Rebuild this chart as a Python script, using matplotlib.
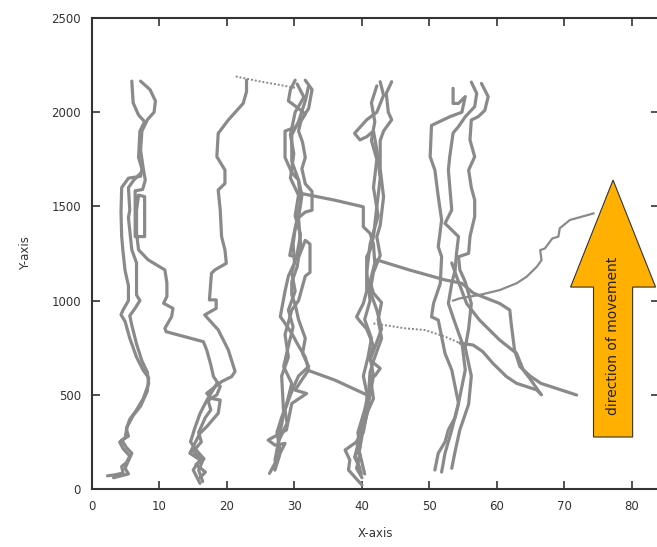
import matplotlib
matplotlib.use("Agg")
import matplotlib.pyplot as plt
from matplotlib.patches import FancyArrow

# tracks (x in axis units, y in axis units)
c1_a_x = [5.9, 6.1, 6.9, 7.8, 7.1, 7.0, 6.9, 7.4, 7.2, 5.4, 4.4, 4.3, 4.4, 4.6, 4.9, 5.4, 5.4, 4.6, 4.3,
          4.9, 5.6, 6.6, 7.6, 8.4, 8.2, 7.2, 6.1, 5.2, 4.9, 4.1, 4.6, 5.6, 5.1, 4.4, 4.6, 3.4, 2.3]
c1_a_y = [2165, 2050, 1985, 1950, 1900, 1830, 1760, 1700, 1660, 1650, 1600, 1470, 1340, 1260, 1160, 1080,
          1000, 950, 925, 890, 800, 700, 630, 590, 520, 440, 390, 330, 270, 250, 215, 175, 140, 120, 85, 75, 70]
c1_b_x = [7.6, 6.2, 5.4, 5.6, 5.4, 5.9, 6.6, 6.6, 7.1, 6.4, 5.6, 5.9, 6.6, 7.4, 8.2, 8.4, 7.6, 6.6,
          5.6, 5.1, 5.4, 4.4, 5.1, 5.9, 5.4, 4.9, 5.4, 3.2]
c1_b_y = [1690, 1640, 1600, 1480, 1440, 1270, 1200, 1030, 1000, 960, 920, 870, 770, 680, 620, 560, 480,
          420, 370, 320, 280, 260, 220, 190, 150, 110, 80, 60]
c1_c_x = [7.2, 8.6, 9.4, 9.2, 8.2, 7.4, 7.2, 7.6, 7.9, 7.5, 6.4, 6.4, 7.8, 7.8, 6.9, 6.6, 6.6, 6.9, 8.3,
          10.8, 11.1, 11.1, 10.6, 12.0, 11.8, 10.8, 11.0, 16.5, 17.0, 17.6, 18.0, 19.0, 18.5, 17.2, 17.6,
          16.8, 15.8, 16.2, 15.0, 16.4, 15.8, 16.4]
c1_c_y = [2165, 2120, 2060, 2000, 1960, 1900, 1800, 1700, 1640, 1590, 1583, 1340, 1340, 1552, 1560,
          1480, 1360, 1270, 1217, 1163, 1093, 1022, 986, 959, 915, 853, 835, 782, 738, 660, 597, 544, 500,
          470, 420, 380, 300, 250, 200, 150, 100, 40]

c2_a_x = [22.9, 22.9, 22.4, 20.2, 18.7, 18.5, 19.7, 19.7, 18.7, 19.0, 19.2, 19.7, 19.9, 18.2, 17.7, 17.4,
          18.4, 18.4, 16.7, 18.7, 20.2, 21.2, 20.7, 19.2, 17.0, 17.7, 19.0, 18.7, 17.0, 16.0, 15.0, 14.5,
          16.0, 15.0, 16.0]
c2_a_y = [2170, 2110, 2047, 1959, 1888, 1764, 1693, 1622, 1587, 1481, 1340, 1269, 1198, 1163, 1145, 1004,
          1004, 959, 924, 845, 738, 624, 597, 570, 508, 481, 472, 402, 331, 296, 226, 190, 155, 101, 30]
c2_b_x = [18.5, 17.0, 16.0, 15.2, 14.6, 15.6, 16.6, 15.4, 16.8, 16.0]
c2_b_y = [560, 470, 400, 320, 250, 200, 160, 130, 90, 60]

c3_a_x = [30.1, 29.4, 29.1, 30.6, 31.6, 30.9, 30.1, 28.6, 28.6, 29.6, 30.6, 31.1, 30.6, 30.1, 29.8, 30.0,
          29.1, 28.6, 27.9, 28.6, 29.6, 30.6, 31.6, 32.1, 31.1, 30.1, 31.8, 29.6, 29.1, 28.8, 26.1, 27.1,
          28.6, 27.1, 26.3]
c3_a_y = [2170, 2120, 2060, 2020, 1990, 1950, 1920, 1900, 1760, 1680, 1640, 1560, 1440, 1380, 1300, 1200,
          1130, 1050, 915, 880, 826, 760, 700, 632, 580, 525, 507, 454, 366, 313, 260, 233, 242, 136, 83]
c3_b_x = [31.6, 32.6, 32.1, 31.0, 30.6, 31.2, 31.6, 31.1, 31.6, 32.6, 32.6, 31.6, 30.6, 30.9, 30.4, 29.6,
          29.6, 30.1, 30.6, 31.6, 31.2, 32.1, 30.6, 30.1, 29.4, 28.6, 28.9, 27.6, 27.8, 27.1]
c3_b_y = [2170, 2120, 2020, 1960, 1900, 1840, 1760, 1700, 1620, 1580, 1480, 1470, 1440, 1300, 1180, 1100,
          1030, 980, 900, 800, 720, 650, 600, 560, 500, 420, 350, 250, 180, 100]
c3_c_x = [32.1, 31.6, 30.6, 29.6, 29.6, 30.6, 30.9, 29.9, 29.3, 30.6, 31.6, 32.3, 32.3, 31.6, 30.6, 29.6,
          28.6, 29.1, 28.1, 28.4, 27.1]
c3_c_y = [2140, 2060, 1950, 1880, 1740, 1640, 1520, 1350, 1240, 1230, 1320, 1300, 1150, 1130, 1000, 950,
          820, 700, 600, 400, 150]
c3_d_x = [30.4, 31.4, 30.1, 29.4, 29.9, 29.4, 30.6, 30.1, 30.9, 30.4, 29.6, 30.1, 29.1, 29.8, 29.1, 28.4,
          29.6, 28.9, 28.1, 27.4, 27.9, 26.9]
c3_d_y = [2150, 2080, 2000, 1880, 1780, 1650, 1560, 1450, 1350, 1250, 1150, 1050, 950, 860, 760, 650,
          560, 460, 380, 300, 200, 110]

c4_a_x = [42.7, 43.2, 42.2, 40.7, 38.9, 39.7, 40.7, 41.7, 42.2, 42.7, 42.2, 41.7, 41.2, 40.7, 40.7, 40.2,
          39.2, 39.7, 40.7, 41.7, 41.2, 41.7, 41.2, 40.7, 40.2, 39.2, 38.2, 37.5, 38.2, 38.0, 40.0]
c4_a_y = [2162, 2090, 2000, 1960, 1888, 1853, 1870, 1900, 1800, 1650, 1500, 1339, 1268, 1233, 1050, 985,
          914, 890, 850, 760, 700, 600, 500, 400, 300, 250, 225, 207, 154, 101, 21]
c4_b_x = [44.4, 43.6, 43.9, 44.4, 43.2, 42.7, 42.7, 43.2, 42.7, 42.2, 42.7, 41.7, 41.2, 42.2, 42.9, 42.2,
          41.2, 42.7, 41.9, 41.2, 41.7, 40.7, 40.2, 39.2, 39.7, 39.2, 40.0]
c4_b_y = [2162, 2100, 2000, 1960, 1900, 1850, 1700, 1550, 1400, 1339, 1240, 1150, 1050, 950, 850, 780,
          685, 640, 600, 600, 480, 400, 330, 250, 180, 110, 60]
c4_c_x = [31.1, 36.0, 40.2, 40.2, 41.2, 41.7, 41.9, 41.2, 41.7, 42.9, 42.4, 42.9, 41.7, 41.2, 41.0, 40.4,
          39.4, 39.7, 38.9, 39.7]
c4_c_y = [1568, 1533, 1498, 1392, 1357, 1300, 1200, 1100, 1040, 990, 900, 800, 680, 620, 520, 420, 300,
          220, 170, 110]
c4_d_x = [32.0, 36.0, 40.7, 40.9, 40.2, 39.6, 40.4]
c4_d_y = [630, 578, 500, 420, 320, 200, 80]
c4_e_x = [42.2, 41.4, 41.9, 41.4, 42.2, 41.7, 42.4, 41.2, 40.7, 41.2, 40.4, 41.4, 40.9, 40.2, 40.9, 40.2,
          39.7, 39.0, 39.9]
c4_e_y = [2140, 2050, 1950, 1850, 1750, 1600, 1450, 1300, 1150, 1000, 900, 800, 700, 600, 480, 380,
          280, 180, 80]

c5_a_x = [53.5, 53.5, 54.3, 55.3, 54.8, 53.0, 50.3, 50.1, 50.8, 51.3, 51.8, 51.3, 51.8, 51.6, 50.6, 50.3,
          51.3, 51.8, 52.3, 53.3, 54.3, 53.8, 52.8, 52.3, 51.3, 50.8]
c5_a_y = [2127, 2047, 2047, 2083, 2000, 1976, 1930, 1764, 1693, 1552, 1428, 1286, 1233, 1091, 985, 914,
          897, 809, 720, 632, 455, 380, 314, 250, 190, 101]
c5_b_x = [56.2, 57.0, 56.7, 55.3, 54.3, 53.5, 53.0, 52.8, 53.3, 52.3, 54.3, 54.0, 53.8, 53.3, 52.8, 53.8,
          54.8, 55.3, 54.3, 53.3, 52.3, 51.8]
c5_b_y = [2160, 2100, 2030, 1976, 1924, 1890, 1764, 1693, 1481, 1410, 1340, 1250, 1163, 1091, 985, 880,
          780, 632, 455, 314, 190, 90]
c5_c_x = [57.7, 58.7, 58.2, 57.2, 56.2, 56.0, 56.7, 55.8, 56.2, 56.7, 56.7, 56.0, 55.8, 54.3, 54.5, 55.3,
          56.2, 55.8, 55.3, 56.2, 55.8, 54.5, 53.8, 53.3]
c5_c_y = [2153, 2083, 2010, 1976, 1959, 1853, 1764, 1693, 1600, 1534, 1446, 1340, 1251, 1233, 1163, 1100,
          985, 850, 750, 600, 450, 314, 200, 110]

e1_x = [42.2, 47.1, 52.3, 54.8, 56.5, 60.4, 61.9, 62.1, 62.6, 63.4, 64.9, 66.5, 71.8]
e1_y = [1216, 1162, 1110, 1092, 1040, 985, 950, 880, 738, 650, 600, 561, 499]
e3_x = [53.3, 54.3, 55.5, 57.4, 60.4, 62.9, 63.9, 65.0, 66.4]
e3_y = [1200, 1100, 985, 897, 791, 720, 632, 580, 508]
e4_x = [74.3, 70.8, 69.3, 69.1, 68.2, 67.1, 66.4, 66.6, 65.9, 64.4, 62.9, 60.4, 57.4, 54.5, 53.5]
e4_y = [1463, 1428, 1384, 1340, 1330, 1277, 1268, 1215, 1180, 1127, 1092, 1056, 1030, 1012, 1000]
e2_x = [54.5, 56.5, 57.9, 59.4, 61.4, 62.9, 65.9, 66.6]
e2_y = [775, 764, 729, 667, 597, 561, 526, 500]

# thin dotted hops between columns
d1_x = [21.3, 25.1, 30.1]
d1_y = [2190, 2162, 2130]
d2_x = [41.7, 46.4, 49.3, 52.3, 54.5]
d2_y = [879, 853, 844, 809, 775]

thick_tracks = [(c1_a_x, c1_a_y), (c1_b_x, c1_b_y), (c1_c_x, c1_c_y),
                (c2_a_x, c2_a_y), (c2_b_x, c2_b_y),
                (c3_a_x, c3_a_y), (c3_b_x, c3_b_y), (c3_c_x, c3_c_y), (c3_d_x, c3_d_y),
                (c4_a_x, c4_a_y), (c4_b_x, c4_b_y), (c4_c_x, c4_c_y), (c4_d_x, c4_d_y),
                (c4_e_x, c4_e_y),
                (c5_a_x, c5_a_y), (c5_b_x, c5_b_y), (c5_c_x, c5_c_y),
                (e1_x, e1_y), (e3_x, e3_y), (e2_x, e2_y)]
thin_tracks = [(e4_x, e4_y)]
dotted_tracks = [(d1_x, d1_y), (d2_x, d2_y)]

gray = '#8a8a8a'

fig = plt.figure(figsize=(6.57, 5.47), dpi=100)
# right edge of the axes sits just past the picture, as in the original
ax = fig.add_axes([0.140, 0.106, 0.863, 0.861])

for xs, ys in thick_tracks:
    ax.plot(xs, ys, color=gray, lw=2.3, solid_joinstyle='round', solid_capstyle='round')
for xs, ys in thin_tracks:
    ax.plot(xs, ys, color=gray, lw=1.6)
for xs, ys in dotted_tracks:
    ax.plot(xs, ys, color=gray, lw=1.4, linestyle=(0, (1, 1)))

# direction arrow
arrow = FancyArrow(77.2, 276, 0, 1364, width=5.8, head_width=12.6, head_length=568,
                   length_includes_head=True, facecolor='#ffb000', edgecolor='#333333', lw=0.8,
                   zorder=3)
ax.add_patch(arrow)
ax.text(77.2, 815, 'direction of movement', rotation=90, ha='center', va='center',
        fontsize=10, color='#222222', zorder=4)

ax.set_xlim(0, 84.0)
ax.set_ylim(0, 2500)
ax.set_xticks(range(0, 81, 10))
ax.set_yticks(range(0, 2501, 500))
ax.tick_params(which='both', direction='in', top=True, right=True, length=6, width=1.2,
               color='#333333', labelsize=8.5, labelcolor='#333333', pad=8)
for s in ax.spines.values():
    s.set_linewidth(1.5)
    s.set_color('#333333')
ax.spines['right'].set_visible(False)

ax.set_xlabel('X-axis', fontsize=8.5, color='#333333', labelpad=10)
ax.set_ylabel('Y-axis', fontsize=8.5, color='#333333', labelpad=14)

fig.savefig('out.png', dpi=100)
